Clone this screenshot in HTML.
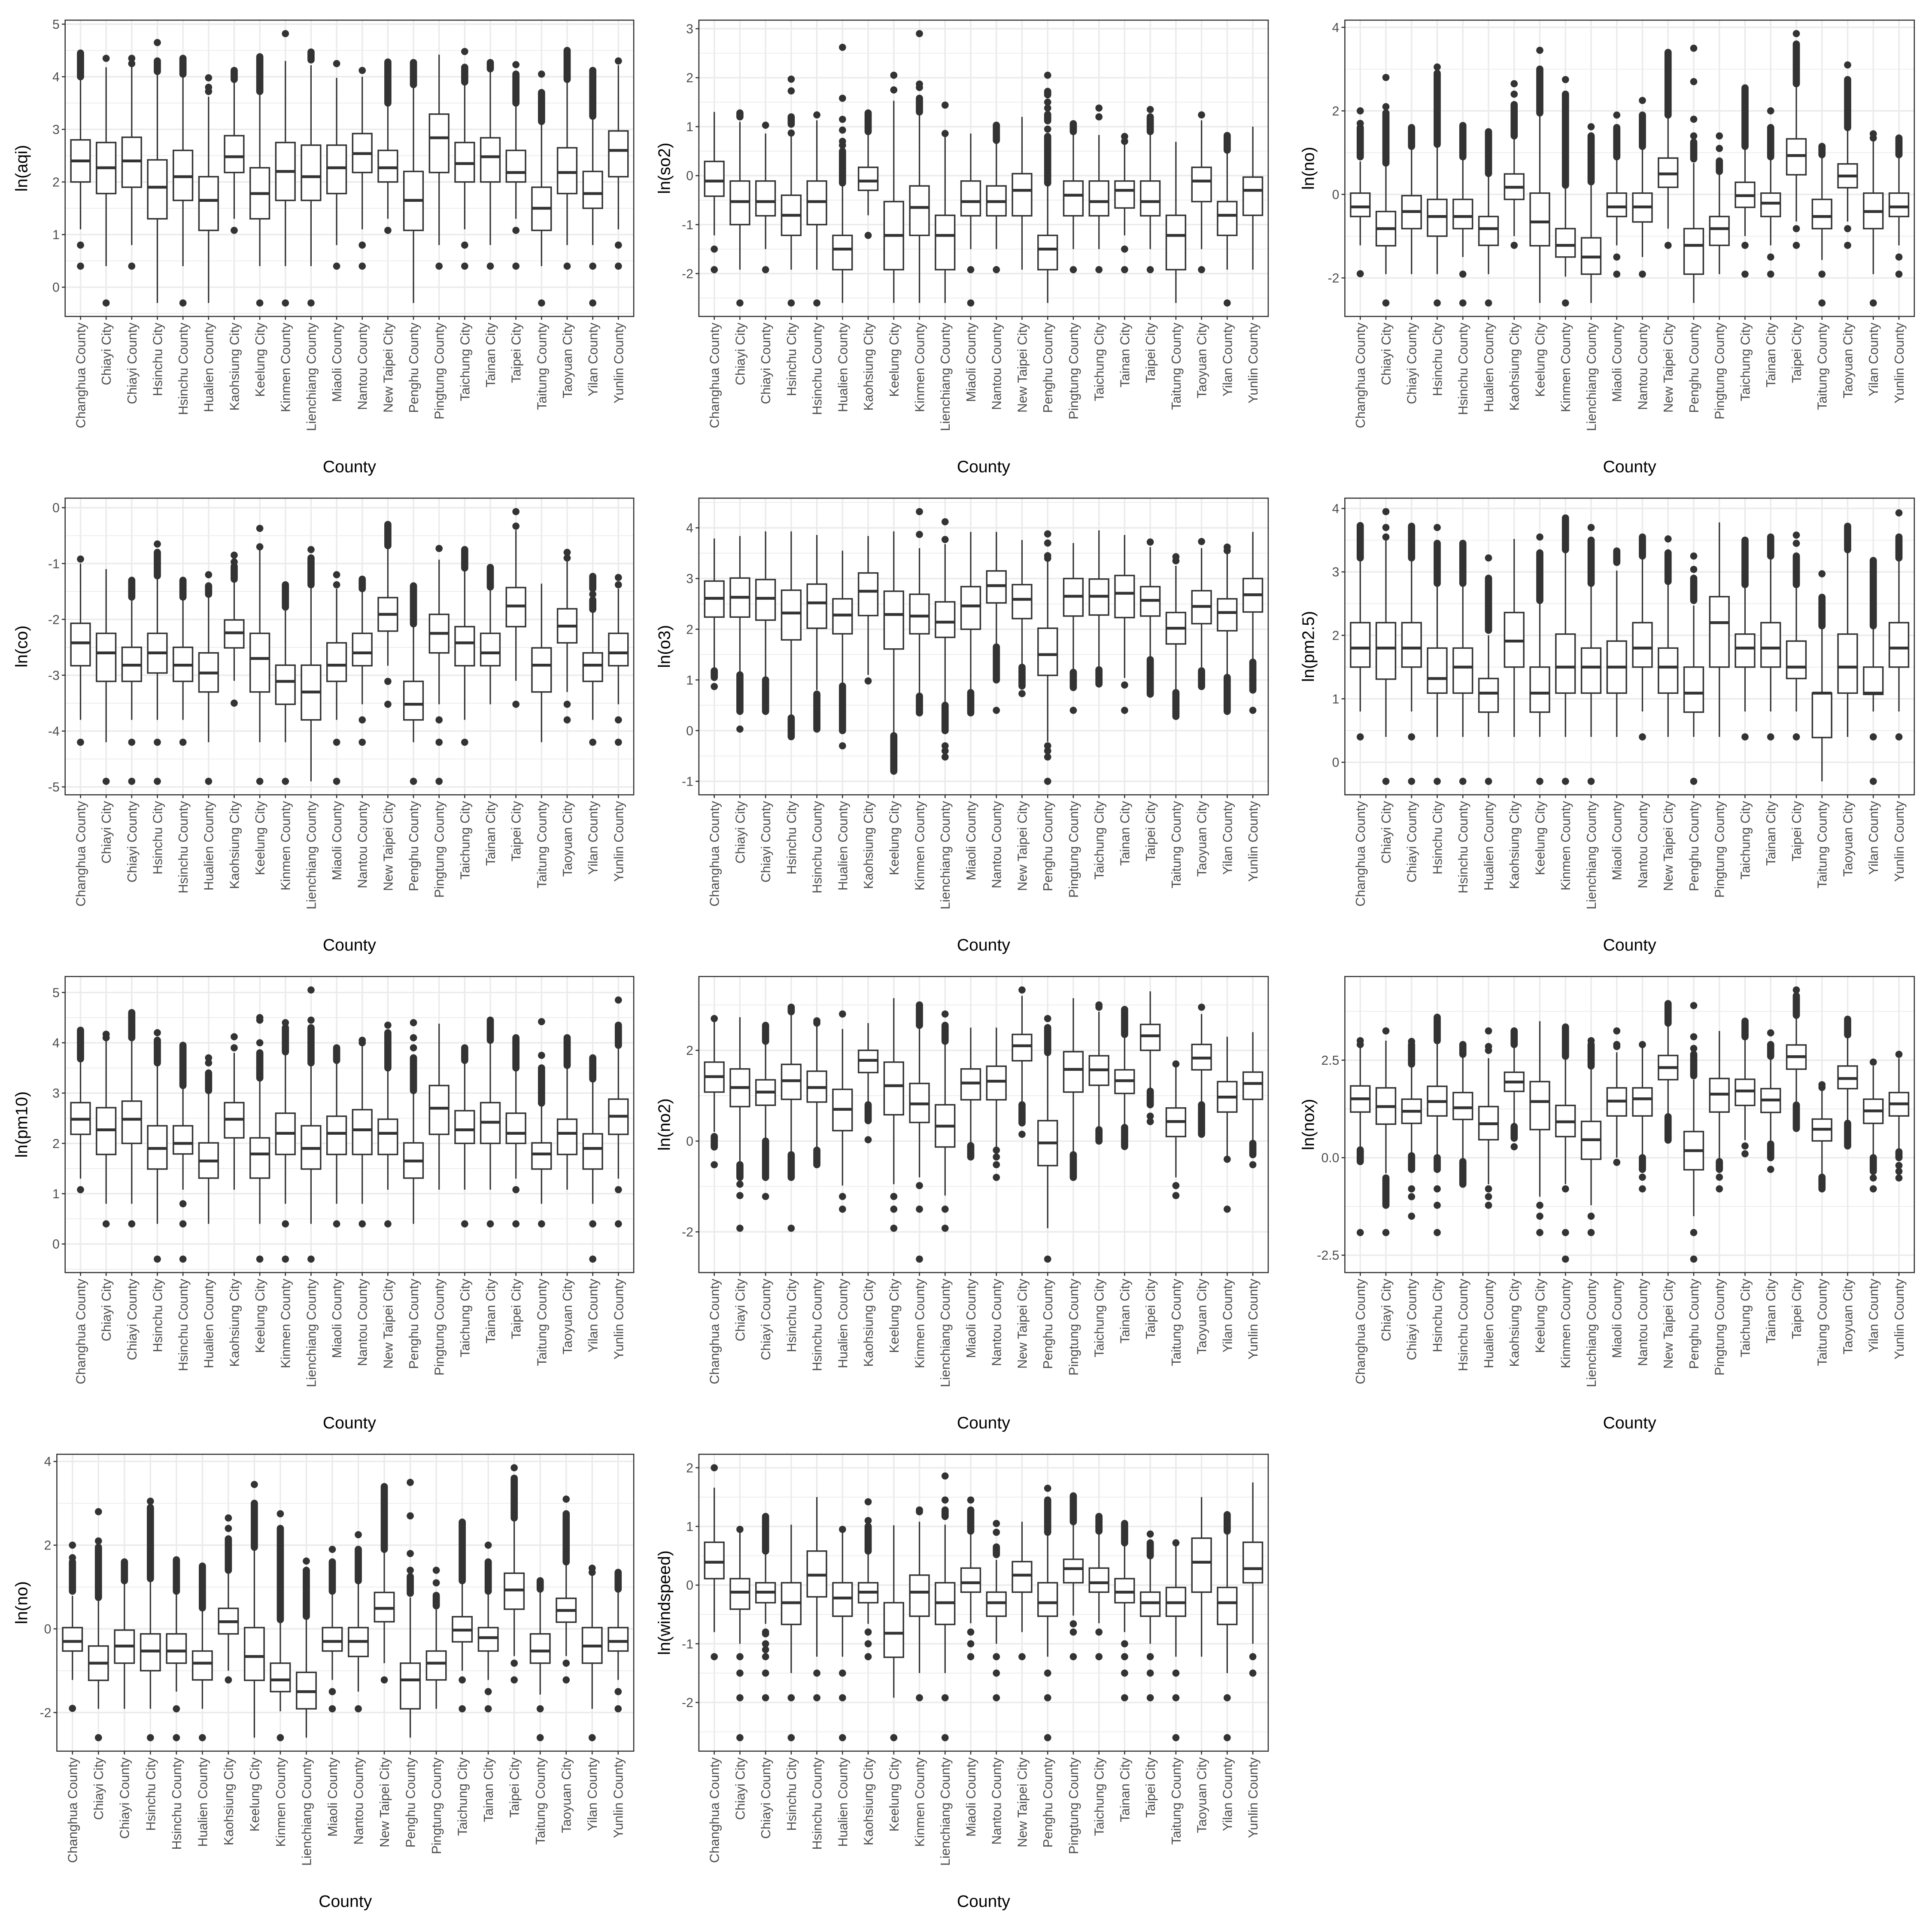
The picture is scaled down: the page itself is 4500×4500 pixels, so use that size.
<!DOCTYPE html>
<html><head><meta charset="utf-8">
<style>
html,body{margin:0;padding:0;background:#fff;}
svg{display:block;}
text{font-family:"Liberation Sans",Arial,sans-serif;}
</style></head>
<body>
<svg id="chart" width="4500" height="4500" viewBox="0 0 1563 1563" xmlns="http://www.w3.org/2000/svg"></svg>
<script>
const counties = ["Changhua County","Chiayi City","Chiayi County","Hsinchu City","Hsinchu County","Hualien County","Kaohsiung City","Keelung City","Kinmen County","Lienchiang County","Miaoli County","Nantou County","New Taipei City","Penghu County","Pingtung County","Taichung City","Tainan City","Taipei City","Taitung County","Taoyuan City","Yilan County","Yunlin County"];

// each row: [lower whisker, q1, median, q3, upper whisker]
const aqiStats = [[1.1,2.0,2.4,2.8,3.97],[0.4,1.78,2.27,2.75,4.18],[0.8,1.9,2.4,2.85,4.2],[-0.3,1.3,1.9,2.42,4.08],[0.4,1.65,2.1,2.6,4.0],[-0.3,1.08,1.65,2.1,3.62],[1.3,2.18,2.48,2.88,3.9],[0.4,1.3,1.78,2.27,3.68],[0.4,1.65,2.2,2.75,4.3],[0.4,1.65,2.1,2.7,4.22],[0.8,1.78,2.27,2.7,3.98],[1.1,2.18,2.54,2.92,4.0],[1.3,2.0,2.27,2.6,3.45],[-0.3,1.08,1.65,2.2,3.8],[0.8,2.18,2.84,3.29,4.42],[1.1,2.0,2.35,2.75,3.85],[0.8,2.0,2.48,2.84,4.12],[1.3,2.0,2.18,2.6,3.45],[0.4,1.08,1.5,1.9,3.1],[0.8,1.78,2.18,2.65,3.93],[0.8,1.5,1.78,2.2,3.22],[1.1,2.1,2.6,2.97,4.22]];
const aqiOut = [[0.4,0.8,[4.0,4.45]],[-0.3,4.35],[0.4,4.25,4.35],[[4.1,4.3],4.65],[-0.3,[4.05,4.35]],[3.72,3.8,3.98],[1.08,[3.95,4.12]],[-0.3,[3.72,4.38]],[-0.3,4.82],[-0.3,[4.32,4.47]],[0.4,4.25],[0.4,0.8,4.12],[1.08,[3.5,4.28]],[[3.85,4.27]],[0.4],[0.4,0.8,[3.9,4.18],4.48],[0.4,[4.15,4.27]],[0.4,1.08,[3.5,4.05],4.23],[-0.3,[3.15,3.7],4.05],[0.4,[3.95,4.5]],[-0.3,0.4,[3.25,4.12]],[0.4,0.8,4.3]];

const so2Stats = [[-1.22,-0.42,-0.11,0.29,1.3],[-1.92,-1.0,-0.53,-0.11,1.1],[-1.5,-0.82,-0.53,-0.11,0.86],[-1.92,-1.22,-0.81,-0.4,0.8],[-1.92,-1.0,-0.53,-0.11,1.13],[-2.6,-1.92,-1.5,-1.22,-0.2],[-0.81,-0.3,-0.11,0.17,0.86],[-2.6,-1.92,-1.22,-0.53,1.53],[-2.6,-1.22,-0.65,-0.21,1.3],[-2.6,-1.92,-1.22,-0.81,0.8],[-1.5,-0.82,-0.53,-0.11,0.86],[-1.5,-0.82,-0.53,-0.21,0.7],[-1.92,-0.82,-0.3,0.04,1.2],[-2.6,-1.92,-1.5,-1.22,-0.2],[-1.5,-0.82,-0.4,-0.11,0.88],[-1.5,-0.82,-0.53,-0.11,0.83],[-1.22,-0.66,-0.3,-0.11,0.67],[-1.5,-0.82,-0.53,-0.11,0.86],[-2.6,-1.92,-1.22,-0.81,0.69],[-1.5,-0.53,-0.11,0.17,1.13],[-1.92,-1.22,-0.81,-0.53,0.5],[-1.92,-0.81,-0.3,-0.03,1.0]];
const so2Out = [[-1.5,-1.92],[[1.2,1.28],-2.6],[1.03,-1.92],[0.87,[1.05,1.2],1.73,1.97,-2.6],[1.24,-2.6],[[-0.15,0.5],0.62,0.7,0.93,1.15,1.58,2.62],[[0.9,1.28],-1.22],[1.75,2.05],[[1.3,1.58],1.8,1.87,2.9],[0.86,1.44],[-1.92,-2.6],[[0.72,1.03],-1.92],[],[[-0.15,0.8],0.95,[1.12,1.25],1.38,1.5,[1.65,1.72],2.05],[[0.9,1.06],-1.92],[1.2,1.38,-1.92],[0.7,0.8,-1.5,-1.92],[[0.9,1.2],1.35,-1.92],[],[1.24,-1.92],[[0.52,0.82],-2.6],[]];

const noStats = [[-1.22,-0.53,-0.3,0.03,0.79],[-1.91,-1.23,-0.82,-0.41,0.73],[-1.91,-0.82,-0.41,-0.03,1.1],[-1.91,-1.0,-0.53,-0.12,1.15],[-1.5,-0.82,-0.53,-0.12,0.85],[-1.91,-1.22,-0.82,-0.53,0.45],[-1.0,-0.12,0.17,0.49,1.35],[-2.6,-1.23,-0.66,0.03,1.9],[-1.97,-1.5,-1.22,-0.82,0.2],[-2.6,-1.91,-1.5,-1.04,0.25],[-1.22,-0.53,-0.3,0.03,0.85],[-1.5,-0.66,-0.3,0.03,1.12],[-0.82,0.17,0.49,0.87,1.85],[-2.6,-1.91,-1.22,-0.82,0.75],[-1.91,-1.22,-0.82,-0.53,0.5],[-1.0,-0.31,-0.03,0.29,1.1],[-1.22,-0.53,-0.21,0.03,0.85],[-0.65,0.47,0.93,1.33,2.6],[-1.57,-0.82,-0.53,-0.12,0.9],[-0.65,0.16,0.44,0.73,1.55],[-1.91,-0.82,-0.41,0.03,1.3],[-1.22,-0.53,-0.3,0.03,0.9]];
const noOut = [[[0.9,1.6],1.7,2.0,-1.9],[[0.75,1.95],2.1,2.8,-2.6],[[1.15,1.6]],[[1.2,2.9],3.05,-2.6],[[0.9,1.65],-1.91,-2.6],[[0.5,1.5],-2.6],[[1.4,2.15],2.4,2.65,-1.22],[[1.95,3.0],3.45],[[0.22,2.4],2.75,-2.6],[[0.3,1.4],1.62],[[0.9,1.6],1.9,-1.5,-1.91],[[1.15,1.9],2.25,-1.91],[[1.9,3.4],-1.22],[[0.85,1.25],1.4,1.8,2.7,3.5],[[0.55,0.8],1.1,1.4],[[1.15,2.55],-1.22,-1.91],[[0.9,1.6],2.0,-1.5,-1.91],[[2.65,3.6],3.85,-0.82,-1.22],[[0.95,1.15],-1.91,-2.6],[[1.6,2.75],3.1,-0.82,-1.22],[1.35,1.45,-2.6],[[0.95,1.35],-1.5,-1.91]];

const coStats = [[-3.8,-2.83,-2.42,-2.07,-1.0],[-4.2,-3.11,-2.6,-2.25,-1.1],[-3.8,-3.11,-2.82,-2.5,-1.62],[-3.8,-2.96,-2.6,-2.25,-1.25],[-3.8,-3.11,-2.82,-2.5,-1.62],[-4.2,-3.3,-2.96,-2.6,-1.6],[-3.1,-2.51,-2.24,-2.01,-1.32],[-4.2,-3.3,-2.7,-2.25,-0.75],[-4.2,-3.52,-3.11,-2.82,-1.8],[-4.9,-3.8,-3.3,-2.82,-1.4],[-3.8,-3.11,-2.82,-2.42,-1.45],[-3.52,-2.83,-2.6,-2.25,-1.48],[-2.83,-2.21,-1.91,-1.61,-0.7],[-4.2,-3.8,-3.52,-3.11,-2.1],[-3.52,-2.6,-2.25,-1.91,-0.93],[-3.8,-2.83,-2.42,-2.13,-1.1],[-3.52,-2.83,-2.6,-2.25,-1.43],[-3.1,-2.13,-1.76,-1.43,-0.4],[-4.2,-3.3,-2.82,-2.51,-1.36],[-3.3,-2.42,-2.12,-1.81,-0.93],[-3.8,-3.11,-2.82,-2.6,-1.85],[-3.52,-2.83,-2.6,-2.25,-1.45]];
const coOut = [[-0.92,-4.2],[-4.9],[[-1.6,-1.3],-4.2,-4.9],[[-1.22,-0.8],-0.65,-4.2,-4.9],[[-1.6,-1.3],-4.2],[[-1.55,-1.4],-1.2,-4.9],[[-1.28,-1.05],-0.97,-0.85,-3.5],[-0.7,-0.37,-4.9],[[-1.78,-1.38],-4.9],[[-1.38,-0.9],-0.75],[-1.38,-1.2,-4.2,-4.9],[[-1.45,-1.28],-3.8,-4.2],[[-0.68,-0.3],-3.11,-3.52],[[-2.08,-1.4],-4.9],[-0.73,-3.8,-4.2,-4.9],[[-1.08,-0.75],-4.2],[[-1.42,-1.07]],[-0.33,-0.07,-3.52],[],[-0.9,-0.8,-3.52,-3.8],[[-1.82,-1.65],-1.55,[-1.45,-1.23],-4.2],[-1.38,-1.25,-3.8,-4.2]];

const o3Stats = [[1.24,2.24,2.61,2.95,3.79],[1.12,2.24,2.63,3.01,3.84],[1.0,2.18,2.61,2.98,3.93],[0.3,1.79,2.32,2.77,3.93],[0.8,2.02,2.52,2.89,3.86],[0.9,1.91,2.28,2.6,3.55],[1.1,2.27,2.75,3.11,3.84],[-0.1,1.61,2.29,2.75,3.93],[0.7,1.91,2.26,2.69,3.6],[0.52,1.84,2.14,2.54,3.68],[0.78,2.0,2.46,2.84,3.92],[1.7,2.52,2.86,3.15,3.92],[1.26,2.21,2.59,2.88,3.76],[-0.22,1.09,1.5,2.02,3.35],[1.2,2.26,2.65,3.0,3.7],[1.25,2.28,2.65,2.99,3.95],[1.04,2.23,2.71,3.06,3.86],[1.45,2.26,2.57,2.84,3.62],[0.8,1.71,2.02,2.33,3.25],[1.25,2.11,2.45,2.76,3.6],[1.1,1.97,2.33,2.6,3.5],[1.4,2.34,2.68,3.0,3.92]];
const o3Out = [[[1.05,1.18],0.87],[[0.38,1.1],0.03],[[0.38,1.0]],[[-0.12,0.25]],[[0.03,0.72]],[[0.0,0.88],-0.3],[0.98],[[-0.8,-0.1]],[[0.35,0.68],3.87,4.32],[[0.0,0.5],-0.3,-0.4,-0.52,3.77,4.12],[[0.35,0.75]],[[1.0,1.65],0.4],[[0.88,1.25],0.73],[3.4,3.45,3.7,3.88,-0.3,-0.4,-0.52,-1.0],[[0.85,1.15],0.4],[[0.92,1.2]],[0.9,0.4],[[0.72,1.4],3.72],[[0.28,0.75],3.35,3.43],[[0.87,1.18],3.73],[[0.38,1.05],3.55,3.62],[[0.8,1.35],0.4]];

const pm25Stats = [[0.8,1.5,1.8,2.2,3.2],[0.4,1.31,1.8,2.2,3.52],[0.8,1.5,1.8,2.2,3.2],[0.4,1.09,1.32,1.8,2.8],[0.4,1.09,1.5,1.8,2.8],[0.4,0.79,1.09,1.32,2.0],[0.4,1.5,1.91,2.36,3.52],[0.4,0.79,1.09,1.5,2.5],[0.4,1.09,1.5,2.02,3.3],[0.4,1.09,1.5,1.8,2.8],[0.4,1.09,1.5,1.91,3.02],[0.8,1.5,1.8,2.2,3.2],[0.4,1.09,1.5,1.8,2.8],[0.4,0.79,1.09,1.5,2.47],[0.4,1.5,2.2,2.61,3.78],[0.8,1.5,1.8,2.02,2.75],[0.8,1.5,1.8,2.2,3.2],[0.8,1.32,1.5,1.91,2.75],[-0.3,0.39,1.09,1.09,2.1],[0.4,1.09,1.5,2.02,3.32],[0.8,1.07,1.09,1.5,2.1],[0.8,1.5,1.8,2.2,3.2]];
const pm25Out = [[[3.22,3.73],0.4],[3.55,3.7,3.95,-0.3],[[3.22,3.72],0.4,-0.3],[[2.82,3.45],3.7,-0.3],[[2.82,3.45],-0.3],[[2.08,2.9],3.22,-0.3],[],[[2.55,3.3],3.55,-0.3],[[3.35,3.85],-0.3],[[2.82,3.5],3.7,-0.3],[[3.15,3.33]],[[3.25,3.55],0.4],[[2.85,3.3],3.52],[[2.55,2.9],3.04,3.25,-0.3],[],[[2.8,3.5],0.4],[[3.25,3.55],0.4],[[2.8,3.25],3.45,3.58,0.4],[[2.15,2.6],2.97],[[3.35,3.72]],[[2.15,3.18],0.4,-0.3],[[3.22,3.55],3.93,0.4]];

const pm10Stats = [[1.3,2.18,2.48,2.81,3.65],[0.8,1.78,2.27,2.71,4.05],[0.8,2.0,2.48,2.84,4.05],[0.4,1.49,1.9,2.35,3.55],[1.08,1.79,2.0,2.35,3.1],[0.4,1.31,1.65,2.01,3.0],[1.08,2.11,2.48,2.81,3.8],[0.4,1.31,1.79,2.11,3.25],[0.8,1.78,2.2,2.6,3.78],[0.4,1.49,1.9,2.35,3.55],[0.8,1.78,2.2,2.54,3.62],[0.8,1.78,2.27,2.67,3.95],[1.08,1.78,2.2,2.48,3.48],[0.4,1.31,1.65,2.01,3.0],[1.08,2.18,2.7,3.15,4.38],[1.08,2.0,2.27,2.65,3.6],[1.08,2.0,2.42,2.81,4.0],[1.3,2.0,2.2,2.6,3.45],[0.8,1.49,1.79,2.01,2.75],[1.08,1.78,2.2,2.48,3.5],[0.8,1.49,1.9,2.19,3.25],[1.3,2.18,2.54,2.88,3.9]];
const pm10Out = [[[3.68,4.25],1.08],[4.1,4.17,0.4],[[4.1,4.6],0.4],[[3.6,4.05],4.2,-0.3],[[3.15,3.95],0.8,0.4,-0.3],[[3.05,3.4],3.6,3.7],[3.9,4.12],[[3.3,3.8],4.0,4.45,4.5,-0.3],[[3.82,4.3],4.4,0.4,-0.3],[[3.6,4.3],4.45,5.05,-0.3],[[3.65,3.9],0.4],[4.0,4.05,0.4],[[3.5,4.2],4.35,0.4],[[3.05,3.7],3.9,4.1,4.4],[],[[3.65,3.9],0.4],[[4.05,4.45],0.4],[[3.5,4.1],1.08,0.4],[[2.8,3.5],3.75,4.42,0.4],[[3.55,4.1]],[[3.28,3.7],0.4,-0.3],[[3.95,4.35],4.85,1.08,0.4]];

const no2Stats = [[0.2,1.08,1.42,1.74,2.65],[-0.45,0.76,1.18,1.59,2.73],[0.05,0.79,1.08,1.35,2.2],[-0.3,0.92,1.33,1.69,2.85],[-0.15,0.86,1.18,1.54,2.55],[-0.98,0.23,0.7,1.14,2.47],[0.8,1.51,1.78,2.0,2.6],[-0.95,0.58,1.22,1.74,3.15],[-0.8,0.41,0.82,1.27,2.5],[-1.2,-0.13,0.33,0.8,2.2],[-0.1,0.91,1.28,1.59,2.5],[-0.15,0.91,1.32,1.65,2.5],[0.8,1.77,2.1,2.35,3.2],[-1.92,-0.54,-0.04,0.45,1.9],[-0.3,1.08,1.58,1.97,3.15],[0.25,1.23,1.57,1.88,2.85],[0.3,1.05,1.33,1.57,2.3],[1.1,2.0,2.32,2.57,3.3],[-0.8,0.1,0.43,0.73,1.65],[0.85,1.57,1.83,2.13,2.8],[-0.35,0.64,0.97,1.31,2.3],[-0.05,0.92,1.27,1.52,2.4]];
const no2Out = [[[-0.13,0.1],-0.52,2.7],[[-0.8,-0.52],-0.95,-1.2,-1.92],[[2.2,2.55],[-0.8,0.0],-1.22],[[2.85,2.95],[-0.8,-0.3],-1.92],[2.6,2.65,[-0.52,-0.2]],[2.8,-1.22,-1.5],[[0.45,0.8],0.03],[-1.22,-1.5,-1.92],[[2.55,3.0],-0.98,-1.5,-2.6],[[2.2,2.55],2.8,-1.5,-1.92],[[-0.35,-0.1]],[-0.2,-0.35,-0.52,-0.8],[[0.4,0.8],0.15,3.33],[[1.95,2.5],2.7,-2.6],[[-0.8,-0.3]],[[0.0,0.25],2.95,3.0],[[-0.12,0.3],[2.35,2.9]],[[0.8,1.1],0.55,0.43],[1.7,-0.98,-1.2],[2.95,[0.15,0.8]],[-0.4,-1.5],[[-0.3,-0.05],-0.52]];

const noxStats = [[0.25,1.17,1.51,1.84,2.84],[-0.4,0.86,1.31,1.79,3.0],[0.05,0.88,1.19,1.5,2.4],[0.0,1.07,1.44,1.83,2.95],[-0.1,0.98,1.28,1.67,2.6],[-0.68,0.46,0.87,1.31,2.55],[0.85,1.7,1.94,2.19,2.85],[-1.0,0.72,1.44,1.95,3.5],[-0.68,0.54,0.92,1.34,2.55],[-1.22,-0.04,0.46,0.93,2.3],[0.0,1.07,1.45,1.79,2.7],[0.0,1.07,1.51,1.79,2.85],[1.1,2.0,2.31,2.62,3.4],[-1.5,-0.31,0.18,0.67,2.0],[-0.1,1.17,1.63,2.03,3.25],[0.45,1.34,1.71,2.01,3.05],[0.1,1.16,1.48,1.77,2.57],[1.4,2.27,2.59,2.89,3.6],[-0.5,0.43,0.73,0.99,1.72],[0.9,1.77,2.03,2.35,3.08],[0.05,0.88,1.2,1.5,2.35],[0.15,1.07,1.38,1.67,2.55]];
const noxOut = [[[-0.1,0.2],2.9,3.0,-1.92],[[-1.2,-0.52],-1.22,-1.92,3.25],[[2.4,2.9],2.98,[-0.3,0.05],-0.8,-1.0,-1.5],[[3.0,3.6],[-0.3,0.0],-0.8,-1.22,-1.92],[[2.65,2.9],[-0.68,-0.1]],[2.75,2.85,3.25,-0.8,-1.0,-1.22],[[2.9,3.25],[0.5,0.8],0.28],[-1.22,-1.5,-1.92],[[2.6,3.35],-0.8,-1.92,-2.6],[[2.35,2.9],3.0,-1.5,-1.92],[2.85,2.9,3.25,-0.12],[2.9,[-0.3,0.0],-0.5,-0.8],[[3.45,3.95],[0.45,1.05]],[[2.1,2.65],2.8,3.1,3.9,-1.92,-2.6],[[-0.3,-0.1],-0.5,-0.8],[[3.1,3.5],0.1,0.3],[[2.6,2.9],3.2,[0.0,0.35],-0.3],[[3.65,4.15],4.3,[0.75,1.35]],[1.8,1.87,[-0.8,-0.5]],[[3.15,3.55],[0.3,0.88]],[2.45,[-0.35,0.0],-0.52,-0.8],[2.65,[0.0,0.15],-0.2,-0.35,-0.52]];

const windStats = [[-0.8,0.11,0.39,0.73,1.66],[-1.0,-0.41,-0.12,0.11,0.9],[-0.66,-0.3,-0.12,0.04,0.55],[-1.5,-0.67,-0.3,0.04,1.03],[-1.22,-0.2,0.17,0.58,1.5],[-1.22,-0.53,-0.22,0.04,0.9],[-0.66,-0.3,-0.12,0.04,0.55],[-1.92,-1.23,-0.82,-0.3,1.02],[-1.5,-0.53,-0.12,0.17,1.08],[-1.5,-0.67,-0.3,0.04,1.03],[-0.65,-0.12,0.04,0.29,0.9],[-1.0,-0.53,-0.3,-0.12,0.43],[-0.8,-0.12,0.17,0.4,1.08],[-1.22,-0.53,-0.3,0.04,0.85],[-0.52,0.04,0.28,0.44,1.05],[-0.65,-0.12,0.04,0.29,0.88],[-0.8,-0.3,-0.12,0.11,0.7],[-1.0,-0.53,-0.3,-0.12,0.45],[-1.22,-0.53,-0.3,-0.04,0.68],[-1.22,-0.12,0.39,0.8,1.5],[-1.5,-0.67,-0.3,-0.04,0.9],[-1.0,0.04,0.28,0.73,1.75]];
const windOut = [[2.0,-1.22],[0.95,-1.22,-1.5,-1.92,-2.6],[[0.58,1.17],-0.8,-0.83,-1.0,-1.1,-1.22,-1.5,-1.92],[-1.92,-2.6],[-1.5,-1.92],[0.95,-1.5,-1.92,-2.6],[[0.58,1.0],1.1,1.42,-0.8,-1.0,-1.22],[-2.6],[1.25,1.28,-1.92],[[1.17,1.28],1.45,1.86,-1.92,-2.6],[[0.92,1.28],1.45,-0.8,-1.0,-1.22],[[0.52,0.65],0.9,1.05,-1.22,-1.5,-1.92],[-1.22],[[0.9,1.45],1.65,-1.5,-1.92,-2.6],[[1.08,1.52],-0.66,-0.8,-1.22],[[0.92,1.17],-0.8,-1.22],[[0.72,1.05],-1.0,-1.22,-1.5,-1.92],[[0.5,0.72],0.87,-1.22,-1.5,-1.92],[0.72,-1.5,-1.92,-2.6],[],[[0.92,1.2],-1.92,-2.6],[-1.22,-1.5]];

const aqiTicks=[0,1,2,3,4,5], so2Ticks=[-2,-1,0,1,2,3], noTicks=[-2,0,2,4], coTicks=[-5,-4,-3,-2,-1,0], o3Ticks=[-1,0,1,2,3,4], pm25Ticks=[0,1,2,3,4], pm10Ticks=[0,1,2,3,4,5], no2Ticks=[-2,0,2], noxTicks=[-2.5,0,2.5], windTicks=[-2,-1,0,1,2];
const noxTickLabels=["-2.5","0.0","2.5"];

const panels = [
 {key:"aqi",title:"ln(aqi)",stats:aqiStats,out:aqiOut,ticks:aqiTicks,L:52.7,R:512.7,T:16.3,B:256,yt:22},
 {key:"so2",title:"ln(so2)",stats:so2Stats,out:so2Out,ticks:so2Ticks,L:565.4,R:1026,T:16.3,B:256,yt:542},
 {key:"no",title:"ln(no)",stats:noStats,out:noOut,ticks:noTicks,L:1088,R:1548.7,T:16.3,B:256,yt:1063},
 {key:"co",title:"ln(co)",stats:coStats,out:coOut,ticks:coTicks,L:52.7,R:512.7,T:403,B:643,yt:22},
 {key:"o3",title:"ln(o3)",stats:o3Stats,out:o3Out,ticks:o3Ticks,L:565.4,R:1026,T:403,B:643,yt:542},
 {key:"pm25",title:"ln(pm2.5)",stats:pm25Stats,out:pm25Out,ticks:pm25Ticks,L:1088,R:1548.7,T:403,B:643,yt:1063},
 {key:"pm10",title:"ln(pm10)",stats:pm10Stats,out:pm10Out,ticks:pm10Ticks,L:52.7,R:512.7,T:790,B:1029.5,yt:22},
 {key:"no2",title:"ln(no2)",stats:no2Stats,out:no2Out,ticks:no2Ticks,L:565.4,R:1026,T:790,B:1029.5,yt:542},
 {key:"nox",title:"ln(nox)",stats:noxStats,out:noxOut,ticks:noxTicks,tickLabels:noxTickLabels,L:1088,R:1548.7,T:790,B:1029.5,yt:1063},
 {key:"no-2",title:"ln(no)",stats:noStats,out:noOut,ticks:noTicks,L:46,R:512.7,T:1176.5,B:1416.7,yt:22},
 {key:"windspeed",title:"ln(windspeed)",stats:windStats,out:windOut,ticks:windTicks,L:565.4,R:1026,T:1176.5,B:1416.7,yt:542}
];

const NS="http://www.w3.org/2000/svg";
const svg=document.getElementById("chart");
function mk(tag,attrs,parent){const e=document.createElementNS(NS,tag);for(const k in attrs)e.setAttribute(k,attrs[k]);(parent||svg).appendChild(e);return e;}

panels.forEach(p=>{
  const g=mk("g",{});
  
  
  let mn=Infinity,mx=-Infinity;
  p.stats.forEach(s=>{mn=Math.min(mn,s[0]);mx=Math.max(mx,s[4]);});
  p.out.forEach(a=>a.forEach(v=>{const vs=Array.isArray(v)?v:[v];vs.forEach(u=>{mn=Math.min(mn,u);mx=Math.max(mx,u);});}));
  const pad=(mx-mn)*0.05; const y0=mn-pad,y1=mx+pad;
  const yS=v=>p.B-(v-y0)/(y1-y0)*(p.B-p.T);
  const n=counties.length, unit=(p.R-p.L)/(n-1+1.2);
  const xS=i=>p.L+(i+0.6)*unit;
  const bg=mk("rect",{x:p.L,y:p.T,width:p.R-p.L,height:p.B-p.T,fill:"#fff"},g);
  
  
  for(let k=0;k<p.ticks.length+1;k++){
    const step=p.ticks[1]-p.ticks[0];
    const mv=p.ticks[0]+(k-0.5)*step;
    if(mv>y0&&mv<y1){const l=mk("line",{x1:p.L,x2:p.R,y1:yS(mv),y2:yS(mv),stroke:"#ebebeb","stroke-width":0.6},g);
      
      }
  }
  p.ticks.forEach(t=>{const l=mk("line",{x1:p.L,x2:p.R,y1:yS(t),y2:yS(t),stroke:"#ebebeb","stroke-width":1.2},g);
    
    });
  counties.forEach((c,i)=>{const l=mk("line",{x1:xS(i),x2:xS(i),y1:p.T,y2:p.B,stroke:"#ebebeb","stroke-width":1.2},g);
    
    });
  const bw=unit*0.75;
  p.stats.forEach((s,i)=>{
    const bx=mk("g",{},g);
    
    
    const cx=xS(i);
    mk("line",{x1:cx,x2:cx,y1:yS(s[0]),y2:yS(s[1]),stroke:"#333","stroke-width":1.1},bx);
    mk("line",{x1:cx,x2:cx,y1:yS(s[3]),y2:yS(s[4]),stroke:"#333","stroke-width":1.1},bx);
    mk("rect",{x:cx-bw/2,y:yS(s[3]),width:bw,height:Math.max(0.01,yS(s[1])-yS(s[3])),fill:"#fff",stroke:"#333","stroke-width":1.2},bx);
    mk("line",{x1:cx-bw/2,x2:cx+bw/2,y1:yS(s[2]),y2:yS(s[2]),stroke:"#333","stroke-width":2.3},bx);
    p.out[i].forEach(v=>{
      if(Array.isArray(v)){const o=mk("line",{x1:cx,x2:cx,y1:yS(v[0]),y2:yS(v[1]),stroke:"#333","stroke-width":5.8,"stroke-linecap":"round"},bx);
        
        }
      else {const o=mk("circle",{cx:cx,cy:yS(v),r:2.9,fill:"#333"},bx);
        
        }
    });
  });
  const border=mk("rect",{x:p.L,y:p.T,width:p.R-p.L,height:p.B-p.T,fill:"none",stroke:"#333","stroke-width":0.9},g);
  
  
  p.ticks.forEach((t,k)=>{
    mk("line",{x1:p.L-2.7,x2:p.L,y1:yS(t),y2:yS(t),stroke:"#333","stroke-width":0.9},g);
    const tx=mk("text",{x:p.L-4.5,y:yS(t)+3.7,"text-anchor":"end","font-size":10.5,fill:"#4d4d4d"},g);
    tx.textContent=p.tickLabels?p.tickLabels[k]:String(t);
    
    
  });
  counties.forEach((c,i)=>{
    mk("line",{x1:xS(i),x2:xS(i),y1:p.B,y2:p.B+2.7,stroke:"#333","stroke-width":0.9},g);
    const tx=mk("text",{transform:`translate(${xS(i)+3.8},${p.B+5}) rotate(-90)`,"text-anchor":"end","font-size":10.6,fill:"#4d4d4d"},g);
    tx.textContent=c;
    
    
  });
  const xt=mk("text",{x:(p.L+p.R)/2,y:p.B+126,"text-anchor":"middle","font-size":13.6,fill:"#000"},g);
  xt.textContent="County";
  
  
  const yt=mk("text",{transform:`translate(${p.yt},${(p.T+p.B)/2}) rotate(-90)`,"text-anchor":"middle","font-size":13.6,fill:"#000"},g);
  yt.textContent=p.title;
  
  
});
</script>
</body></html>
